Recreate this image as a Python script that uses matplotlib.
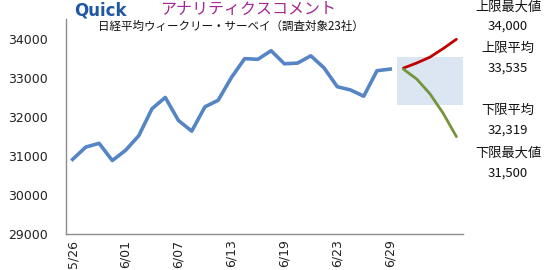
import matplotlib.pyplot as plt
import numpy as np

# 日経平均 終値（実績）
dates = ["5/26", "5/29", "5/30", "5/31", "6/01", "6/02", "6/05", "6/06",
         "6/07", "6/08", "6/09", "6/12", "6/13", "6/14", "6/15", "6/16",
         "6/19", "6/20", "6/21", "6/22", "6/23", "6/26", "6/27", "6/28", "6/29"]
close = [30916, 31233, 31328, 30887, 31148, 31524, 32217, 32506, 31913, 31641,
         32265, 32434, 33018, 33502, 33485, 33706, 33370, 33388, 33575, 33264,
         32781, 32698, 32538, 33193, 33234]

# 予想レンジ（翌週）
upper_path = [33260, 33390, 33540, 33760, 34000]
lower_path = [33230, 32980, 32600, 32100, 31500]
upper_avg = 33535
lower_avg = 32319

side_titles = ["上限最大値", "上限平均", "下限平均", "下限最大値"]
side_values = [34000, 33535, 32319, 31500]

jp = ["Noto Sans CJK JP", "DejaVu Sans"]

fig = plt.figure(figsize=(5.49, 2.70), dpi=100)
W, H = 549, 270
ax = fig.add_axes([66 / W, 1 - 234 / H, (463 - 66) / W, (234 - 19) / H])

n = len(close)
x = np.arange(n)
xf = np.arange(n, n + len(upper_path))

# 予想レンジの帯
ax.fill_between([n - 0.5, xf[-1] + 0.5], lower_avg, upper_avg,
                color="#dce6f2", lw=0, zorder=1)

ax.plot(x, close, color="#5585c5", lw=2.6, solid_joinstyle="round", zorder=3)
ax.plot(xf, upper_path, color="#c00000", lw=2.0, solid_capstyle="round", zorder=3)
ax.plot(xf, lower_path, color="#77933c", lw=2.0, solid_capstyle="round", zorder=3)

ax.set_xlim(-0.5, xf[-1] + 0.5)
ax.set_ylim(29000, 34520)
ax.set_yticks(range(29000, 35000, 1000))
ax.set_xticks(x[::4])
ax.set_xticklabels(dates[::4], rotation=90, va="top", ha="center")
ax.tick_params(axis="both", length=0, labelsize=9, colors="#222222")
ax.tick_params(axis="y", pad=13)
ax.tick_params(axis="x", pad=4)

for s in ["top", "right"]:
    ax.spines[s].set_visible(False)
for s in ["left", "bottom"]:
    ax.spines[s].set_color("#8c8c8c")
    ax.spines[s].set_linewidth(1.0)

fig.text(98 / W, 1 - 26 / H, "日経平均ウィークリー・サーベイ（調査対象23社）",
         family=jp, fontsize=8.3, va="center", ha="left", color="#111111")

# 上部ロゴ
fig.text(74 / W, 1 - 1 / H, "Quick", fontsize=12, fontweight="bold",
         color="#1f57a4", va="top", ha="left", family="DejaVu Sans")
fig.text(160 / W, 1 - 1 / H, "アナリティクスコメント", family=jp, fontsize=11.5,
         color="#a3278f", va="top", ha="left")

# 右側の注記
side_y = [(7, 26), (48, 68), (110, 130), (153, 173)]
for title, value, (yt, yv) in zip(side_titles, side_values, side_y):
    fig.text(508 / W, 1 - yt / H, title, family=jp, fontsize=9.5,
             ha="center", va="center", color="#111111")
    fig.text(508 / W, 1 - yv / H, f"{value:,}", family=jp, fontsize=9.5,
             ha="center", va="center", color="#111111")

fig.savefig("out.png", dpi=100)
